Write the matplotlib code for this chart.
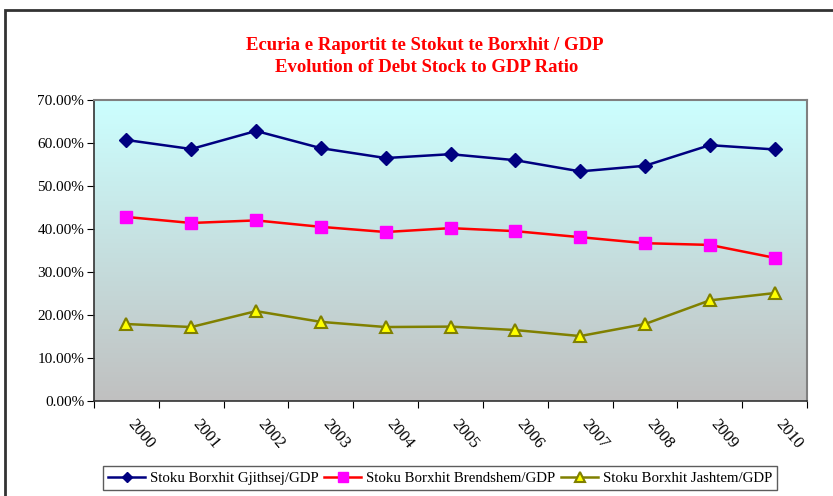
import matplotlib
matplotlib.use("Agg")
import matplotlib.pyplot as plt
import matplotlib.transforms as mtransforms
import numpy as np
from matplotlib.patches import Rectangle
from matplotlib.ticker import FuncFormatter, FixedLocator

years = ["2000", "2001", "2002", "2003", "2004", "2005", "2006", "2007", "2008", "2009", "2010"]
total = [60.7, 58.6, 62.8, 58.8, 56.5, 57.4, 56.0, 53.4, 54.7, 59.5, 58.5]
domestic = [42.8, 41.4, 42.0, 40.5, 39.3, 40.2, 39.5, 38.1, 36.7, 36.3, 33.3]
external = [17.9, 17.2, 20.9, 18.4, 17.2, 17.3, 16.5, 15.1, 17.9, 23.4, 25.1]
labels = ["Stoku Borxhit Gjithsej/GDP", "Stoku Borxhit Brendshem/GDP", "Stoku Borxhit Jashtem/GDP"]

plt.rcParams['font.family'] = ['Liberation Serif', 'DejaVu Serif']

W, H = 833, 496
fig = plt.figure(figsize=(W / 100, H / 100), dpi=100)
fig.patch.set_facecolor('white')

# outer frame
fig.patches.append(Rectangle((5 / W, -0.05), 1.0, 1 - 10 / H + 0.05, transform=fig.transFigure,
                             fill=False, edgecolor='#333333', linewidth=2.0))

ax = fig.add_axes([94 / W, 1 - 401 / H, (807 - 94) / W, (401 - 100) / H])
n = len(years)
x = np.arange(n) + 0.5
ax.set_xlim(0, n)
ax.set_ylim(0, 70)

# gradient background
grad = np.linspace(0, 1, 256).reshape(-1, 1)
top = np.array([0xCC, 0xFF, 0xFF]) / 255
bot = np.array([0xC0, 0xC0, 0xC0]) / 255
img = top[None, None, :] * (1 - grad[:, :, None]) + bot[None, None, :] * grad[:, :, None]
ax.imshow(img, extent=[0, n, 0, 70], aspect='auto', origin='upper', zorder=0)

ax.plot(x, total, color='#000080', lw=1.8, marker='D', ms=7, mfc='#000080', mec='#000080', zorder=3, label=labels[0])
ax.plot(x, domestic, color='#FF0000', lw=1.8, marker='s', ms=9, mfc='#FF00FF', mec='#FF00FF', zorder=3, label=labels[1])
ax.plot(x, external, color='#808000', lw=1.8, marker='^', ms=9, mfc='#FFFF00', mec='#808000', mew=1.5, zorder=3, label=labels[2])

ax.yaxis.set_major_locator(FixedLocator(np.arange(0, 71, 10)))
ax.yaxis.set_major_formatter(FuncFormatter(lambda v, p: f"{v:.2f}%"))
ax.set_xticks(np.arange(n + 1))
ax.set_xticklabels([])
ax.set_xticks(x, minor=True)
ax.set_xticklabels(years, minor=True, rotation=-50, ha='left', va='center', fontsize=12,
                   rotation_mode='anchor')
ax.tick_params(axis='x', which='minor', length=0, pad=15)
ax.tick_params(axis='x', which='major', length=5, direction='out', color='black')
ax.tick_params(axis='y', length=5, direction='out', labelsize=11, pad=2)
off = mtransforms.ScaledTranslation(4 / 100, 0, fig.dpi_scale_trans)
for lab in ax.get_xticklabels(minor=True):
    lab.set_transform(lab.get_transform() + off)

for s in ['top', 'right']:
    ax.spines[s].set_color('#808080')
    ax.spines[s].set_linewidth(1.5)
for s in ['left', 'bottom']:
    ax.spines[s].set_color('#333333')
    ax.spines[s].set_linewidth(1.2)

fig.text(425 / W, 1 - 45 / H, "Ecuria e Raportit te Stokut te Borxhit / GDP",
         color='#FF0000', fontsize=13.5, fontweight='bold', ha='center', va='center')
fig.text(427 / W, 1 - 68 / H, "Evolution of Debt Stock to GDP Ratio",
         color='#FF0000', fontsize=13.5, fontweight='bold', ha='center', va='center')

leg = fig.legend(loc='center', bbox_to_anchor=(440 / W, 1 - 478 / H), ncol=3, fontsize=10.7,
                 frameon=True, fancybox=False, edgecolor='#333333', handlelength=2.5,
                 columnspacing=0.4, handletextpad=0.3, borderpad=0.35, markerscale=0.8)
leg.get_frame().set_linewidth(1.0)

fig.savefig("out.png", dpi=100)
